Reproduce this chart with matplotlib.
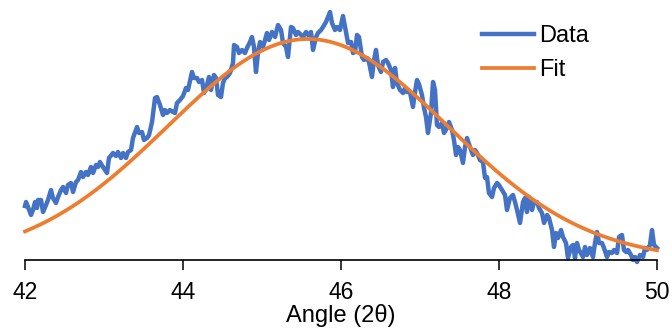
import numpy as np
import matplotlib
matplotlib.use("Agg")
import matplotlib.pyplot as plt

plt.rcParams["font.family"] = ["Liberation Sans", "DejaVu Sans"]

# Measured diffraction profile (arbitrary intensity units)
angle = [
    42.000, 42.013, 42.038, 42.076, 42.101, 42.127, 42.152, 42.165, 42.203, 42.228,
    42.266, 42.291, 42.329, 42.354, 42.392, 42.418, 42.456, 42.481, 42.519, 42.544,
    42.582, 42.608, 42.646, 42.671, 42.709, 42.734, 42.772, 42.797, 42.835, 42.861,
    42.899, 42.924, 42.949, 42.987, 43.038, 43.063, 43.114, 43.152, 43.177, 43.215,
    43.241, 43.278, 43.304, 43.342, 43.367, 43.418, 43.443, 43.481, 43.506, 43.544,
    43.570, 43.608, 43.646, 43.671, 43.709, 43.747, 43.772, 43.797, 43.835, 43.873,
    43.899, 43.924, 43.962, 44.000, 44.038, 44.063, 44.114, 44.139, 44.177, 44.203,
    44.241, 44.266, 44.304, 44.329, 44.354, 44.392, 44.418, 44.443, 44.481, 44.506,
    44.532, 44.557, 44.595, 44.633, 44.646, 44.684, 44.709, 44.747, 44.785, 44.810,
    44.848, 44.873, 44.899, 44.911, 44.924, 44.949, 44.975, 45.013, 45.063, 45.089,
    45.127, 45.165, 45.203, 45.241, 45.266, 45.304, 45.329, 45.367, 45.392, 45.430,
    45.456, 45.494, 45.519, 45.557, 45.582, 45.620, 45.646, 45.684, 45.709, 45.747,
    45.772, 45.810, 45.835, 45.861, 45.886, 45.924, 45.949, 45.987, 46.025, 46.063,
    46.089, 46.127, 46.152, 46.177, 46.203, 46.228, 46.266, 46.291, 46.329, 46.354,
    46.392, 46.418, 46.443, 46.468, 46.506, 46.532, 46.570, 46.595, 46.633, 46.658,
    46.684, 46.709, 46.747, 46.785, 46.810, 46.835, 46.873, 46.911, 46.937, 46.962,
    46.987, 47.025, 47.051, 47.076, 47.101, 47.139, 47.165, 47.190, 47.215, 47.241,
    47.278, 47.304, 47.342, 47.367, 47.405, 47.430, 47.456, 47.481, 47.506, 47.544,
    47.570, 47.595, 47.633, 47.671, 47.696, 47.722, 47.759, 47.797, 47.823, 47.848,
    47.873, 47.911, 47.937, 47.975, 48.000, 48.038, 48.076, 48.101, 48.139, 48.177,
    48.203, 48.228, 48.266, 48.304, 48.329, 48.354, 48.380, 48.418, 48.443, 48.481,
    48.506, 48.544, 48.570, 48.608, 48.633, 48.671, 48.696, 48.722, 48.747, 48.785,
    48.810, 48.848, 48.873, 48.911, 48.937, 48.962, 48.987, 49.013, 49.063, 49.089,
    49.114, 49.152, 49.190, 49.215, 49.241, 49.266, 49.304, 49.329, 49.367, 49.392,
    49.430, 49.456, 49.494, 49.519, 49.557, 49.582, 49.608, 49.633, 49.671, 49.696,
    49.722, 49.747, 49.785, 49.823, 49.848, 49.873, 49.911, 49.937, 49.962, 50.000,
]
intensity = [
    59, 63, 58, 50, 55, 63, 57, 65, 65, 53,
    60, 65, 75, 67, 62, 68, 75, 78, 72, 80,
    82, 73, 83, 85, 93, 88, 93, 90, 98, 92,
    100, 98, 103, 98, 92, 107, 112, 109, 113, 107,
    112, 107, 113, 115, 127, 138, 132, 133, 125, 127,
    130, 143, 167, 168, 160, 150, 155, 152, 155, 153,
    152, 162, 165, 169, 177, 175, 193, 187, 187, 183,
    185, 172, 180, 188, 175, 190, 187, 170, 168, 182,
    187, 188, 192, 202, 220, 218, 212, 215, 212, 217,
    223, 228, 218, 205, 193, 212, 223, 218, 232, 225,
    233, 228, 240, 235, 222, 218, 208, 238, 237, 230,
    233, 230, 228, 233, 230, 233, 215, 228, 232, 235,
    238, 243, 248, 253, 242, 235, 238, 235, 249, 233,
    222, 223, 212, 213, 230, 228, 208, 205, 207, 203,
    188, 205, 215, 200, 193, 203, 205, 202, 195, 178,
    197, 182, 175, 172, 177, 173, 173, 158, 173, 185,
    181, 170, 157, 148, 132, 152, 183, 175, 140, 138,
    142, 132, 137, 143, 135, 125, 110, 118, 115, 102,
    118, 127, 118, 110, 115, 112, 105, 103, 87, 88,
    72, 68, 77, 82, 80, 75, 70, 55, 67, 70,
    63, 55, 42, 63, 67, 53, 68, 55, 63, 63,
    57, 52, 42, 50, 47, 35, 18, 32, 27, 35,
    28, 22, 7, 18, 20, 7, 22, 15, 8, 18,
    10, 17, 8, 22, 33, 22, 22, 17, 8, 13,
    12, 15, 12, 28, 30, 15, 13, 15, 10, 5,
    8, 3, 10, 8, 17, 15, 20, 35, 20, 17,
]

# Gaussian fit parameters
fit_amplitude = 221.0
fit_center = 45.58
fit_sigma = 1.77
fit_baseline = 5.0

x_ticks = [42, 44, 46, 48, 50]

BLUE = "#4472C4"
ORANGE = "#ED7D31"

fig = plt.figure(figsize=(6.72, 3.29), dpi=100)
ax = fig.add_axes([25 / 672, 69 / 329, 632 / 672, 255 / 329])

fit_x = np.linspace(42, 50, 400)
fit_y = fit_baseline + fit_amplitude * np.exp(-(fit_x - fit_center) ** 2 / (2 * fit_sigma ** 2))

ax.plot(angle, intensity, color=BLUE, lw=3.2, label="Data", clip_on=False,
        solid_joinstyle="round", zorder=2)
ax.plot(fit_x, fit_y, color=ORANGE, lw=2.7, label="Fit", clip_on=False, zorder=3)

ax.set_xlim(42, 50)
ax.set_ylim(5, 260)
ax.set_xticks(x_ticks)
ax.set_xticklabels([str(t) for t in x_ticks])
ax.set_yticks([])

for side in ("left", "right", "top"):
    ax.spines[side].set_visible(False)
ax.spines["bottom"].set_linewidth(1.2)
ax.spines["bottom"].set_color("black")
ax.tick_params(axis="x", direction="out", length=7, width=1.1, pad=8,
               labelsize=16.5, colors="black")

ax.set_xlabel("Angle (2θ)", fontsize=17, labelpad=0)

leg = ax.legend(loc="upper left", bbox_to_anchor=(482 / 672, 1 - 25 / 329),
                bbox_transform=fig.transFigure, frameon=False, fontsize=17,
                handlelength=2.2, handletextpad=0.2, labelspacing=0.5,
                borderpad=0, borderaxespad=0)

fig.savefig("out.png", dpi=100)
